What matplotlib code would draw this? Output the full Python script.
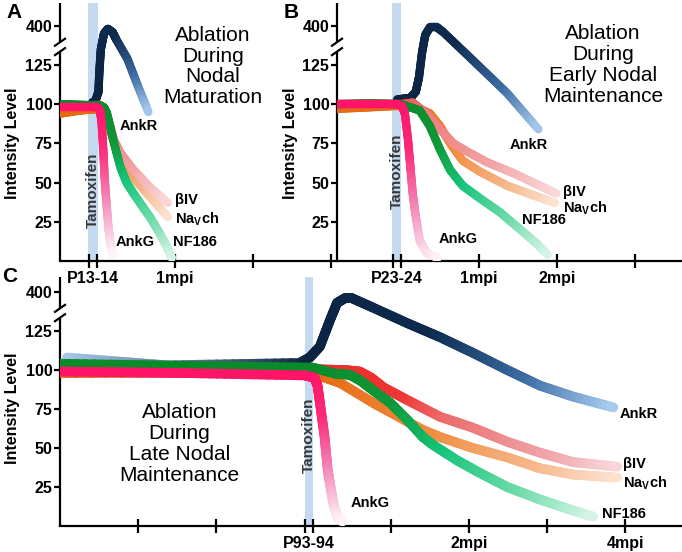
import numpy as np
import matplotlib
matplotlib.use("Agg")
import matplotlib.pyplot as plt
from matplotlib.collections import LineCollection
from matplotlib.colors import LinearSegmentedColormap

plt.rcParams['font.family'] = ['Liberation Sans', 'DejaVu Sans']
plt.rcParams['font.weight'] = 'bold'

# broken intensity scale: 0-125 linear, 150 is where the "400" tick sits
level_ticks = [25, 50, 75, 100, 125, 150]
level_labels = ['25', '50', '75', '100', '125', '400']

# x = months after tamoxifen (0 = end of injection window)
a_ticks = [-0.1, 0, 1, 2, 3]
a_lab_pos = [-0.05, 1]
a_labels = ['P13-14', '1mpi']
b_ticks = [-0.1, 0, 1, 2, 3]
b_lab_pos = [-0.05, 1, 2]
b_labels = ['P23-24', '1mpi', '2mpi']
c_ticks = [-2.24, -1.24, -0.1, 0, 1, 2, 3, 4]
c_lab_pos = [-0.05, 2, 4]
c_labels = ['P93-94', '2mpi', '4mpi']

# panel A - ablation during nodal maturation
a_ankr_x = [-0.06, -0.02, 0.02, 0.03, 0.05, 0.09, 0.14, 0.2, 0.25, 0.39, 0.53, 0.66]
a_ankr_y = [101, 102, 108, 120, 135, 145, 148, 146, 141, 129, 111, 95]
a_ankg_x = [-0.47, -0.21, 0.0, 0.04, 0.06, 0.08, 0.10, 0.125, 0.15, 0.18, 0.21]
a_ankg_y = [98, 98, 98, 96, 88, 72, 52, 35, 20, 9, 4]
a_nf_x = [-0.47, -0.16, 0.04, 0.09, 0.13, 0.21, 0.30, 0.38, 0.47, 0.58, 0.68, 0.79, 0.90, 0.96]
a_nf_y = [100, 99.5, 99, 98, 94, 77, 60, 50, 43, 35, 28, 19, 9, 2]
a_b4_x = [-0.47, 0.04, 0.10, 0.16, 0.22, 0.30, 0.47, 0.68, 0.91]
a_b4_y = [99, 99.5, 97, 88, 77, 69, 58, 47, 37]
a_nav_x = [-0.47, -0.21, 0.04, 0.10, 0.17, 0.25, 0.34, 0.47, 0.68, 0.91]
a_nav_y = [94, 96, 97, 94, 84, 70, 61, 53, 41, 28]

# panel B - early nodal maintenance
b_ankr_x = [-0.05, 0.12, 0.19, 0.23, 0.27, 0.31, 0.37, 0.46, 0.54, 0.92, 1.36, 1.76]
b_ankr_y = [103, 104, 108, 117, 133, 144, 149, 149, 146, 128, 107, 84]
b_ankg_x = [-0.82, -0.4, -0.05, 0.01, 0.05, 0.09, 0.12, 0.15, 0.19, 0.24, 0.33, 0.47]
b_ankg_y = [100, 100, 100, 99, 94, 77, 60, 43, 28, 13, 5, 2]
b_nf_x = [-0.82, -0.4, 0.0, 0.12, 0.24, 0.37, 0.5, 0.63, 0.79, 1.01, 1.27, 1.53, 1.74, 1.88]
b_nf_y = [100, 100.5, 100, 98, 96, 86, 71, 58, 48, 40, 31, 20, 11, 4]
b_b4_x = [-0.82, 0.0, 0.15, 0.33, 0.5, 0.67, 0.84, 1.1, 1.44, 1.78, 1.99]
b_b4_y = [100, 100, 101, 94, 84, 75, 70, 63, 56, 48, 43]
b_nav_x = [-0.82, -0.4, 0.0, 0.2, 0.37, 0.5, 0.63, 0.79, 1.01, 1.36, 1.69, 1.97]
b_nav_y = [97, 98, 99, 98, 94, 86, 75, 64, 57, 48, 42, 37]

# panel C - late nodal maintenance
c_ankr_x = [-3.15, -1.87, -0.17, -0.04, 0.09, 0.22, 0.31, 0.41, 0.5, 0.77, 1.21, 1.63, 2.05, 2.49, 2.91, 3.33, 3.85]
c_ankr_y = [108, 103, 104.5, 108, 115, 132, 143, 146, 146, 140, 130, 121, 111, 100, 90, 83, 76]
c_ankg_x = [-3.24, -1.6, -0.1, 0.02, 0.06, 0.09, 0.15, 0.19, 0.23, 0.26, 0.32, 0.38]
c_ankg_y = [99, 98, 96.5, 95, 90, 79, 57, 36, 24, 15, 5, 3]
c_nf_x = [-3.24, -1.5, 0.0, 0.3, 0.47, 0.6, 0.77, 0.99, 1.21, 1.41, 1.54, 1.85, 2.14, 2.49, 2.91, 3.33, 3.59]
c_nf_y = [104, 102.5, 101.5, 97.5, 97, 93.5, 87, 79, 68, 57, 52, 42, 34, 25, 17, 10, 6]
c_b4_x = [-3.24, -1.5, 0.0, 0.4, 0.6, 0.75, 0.9, 1.2, 1.63, 2.05, 2.49, 2.91, 3.33, 3.9]
c_b4_y = [101.5, 101, 100.5, 100, 99, 95, 89, 81, 70, 63, 54, 47, 41, 38]
c_nav_x = [-3.24, -0.1, 0.1, 0.35, 0.77, 0.99, 1.41, 1.63, 2.05, 2.49, 2.91, 3.33, 3.9]
c_nav_y = [98, 98.5, 96, 91.7, 79, 73, 61.5, 57, 50, 44, 37, 33, 31]

NAVY = '#0b2341'
ANKR_STOPS = [(0, NAVY), (0.5, '#0d2a4d'), (0.78, '#3c6ca3'), (1, '#a4c8ec')]
ANKG_STOPS = [(0, '#ff1468'), (0.3, '#fb2a79'), (0.6, '#f37aae'), (0.85, '#f9c4db'), (1, '#fff3f8')]
NF_STOPS = [(0, '#0b8a2a'), (0.28, '#0f9838'), (0.5, '#16c47a'), (0.78, '#72dcac'), (1, '#d4f5e5')]
B4_STOPS = [(0, '#ee4848'), (0.15, '#ee7878'), (0.6, '#f2a0a2'), (1, '#f9d8da')]
B4C_STOPS = [(0, '#ee2b2b'), (0.3, '#ee3535'), (0.45, '#ec6b6b'), (0.8, '#f1a6ab'), (1, '#f9d6da')]
NAV_STOPS = [(0, '#e56a12'), (0.4, '#f08b3e'), (0.75, '#f6b88c'), (1, '#fde2cf')]
BAR = '#c3daf1'
W, H = 682, 552

fig = plt.figure(figsize=(W / 100, H / 100), dpi=100)


def px_axes(left, right, top, bottom):
    return fig.add_axes([left / W, 1 - bottom / H, (right - left) / W, (bottom - top) / H])


def gradient_line(ax, x, y, stops, lw, z, pre=None):
    x = np.asarray(x, float)
    y = np.asarray(y, float)
    # cut each straight piece into short bits so the colour can change along it
    t = np.linspace(0, 1, 16, endpoint=False)
    xs = np.concatenate([x[i] + (x[i + 1] - x[i]) * t for i in range(len(x) - 1)] + [x[-1:]])
    ys = np.concatenate([y[i] + (y[i + 1] - y[i]) * t for i in range(len(y) - 1)] + [y[-1:]])
    disp = ax.transData.transform(np.column_stack([xs, ys]))
    d = np.concatenate([[0], np.cumsum(np.hypot(*np.diff(disp, axis=0).T))])
    mid = (d[:-1] + d[1:]) / 2
    d0 = d[np.argmax(xs >= 0)] if (xs >= 0).any() else 0.0
    post = np.clip((mid - d0) / (d[-1] - d0), 0, 1)
    colors = LinearSegmentedColormap.from_list('g', stops)(post)
    if pre is not None and d0 > 0:
        before = mid < d0
        ramp = LinearSegmentedColormap.from_list('p', [pre, stops[0][1]])(mid / d0)
        colors[before] = ramp[before]
    pts = np.column_stack([xs, ys])
    segs = np.stack([pts[:-1], pts[1:]], axis=1)
    lc = LineCollection(segs, colors=colors, linewidths=lw, capstyle='round',
                        joinstyle='round', zorder=z)
    ax.add_collection(lc)


def style_axis(ax, xlim, ylim, ticks, lab_pos, labels, brk=(133.5, 139.5)):
    ax.set_xlim(xlim)
    ax.set_ylim(ylim)
    ax.patch.set_visible(False)
    for s in ('top', 'right', 'left'):
        ax.spines[s].set_visible(False)
    ax.spines['bottom'].set_linewidth(1.6)
    ax.xaxis.remove_overlapping_locs = False
    ax.set_xticks(ticks)
    ax.set_xticklabels([])
    ax.set_xticks(lab_pos, labels=labels, minor=True)
    ax.tick_params(axis='x', which='major', direction='inout', length=10, width=1.6)
    ax.tick_params(axis='x', which='minor', length=0, pad=7, labelsize=11.5)
    ax.set_yticks(level_ticks, labels=level_labels)
    ax.tick_params(axis='y', direction='out', length=4.5, width=1.6, pad=1, labelsize=11.5)
    x0 = xlim[0]
    ax.plot([x0, x0], [ylim[0], brk[0]], color='k', lw=1.6, clip_on=False, solid_capstyle='butt')
    ax.plot([x0, x0], [brk[1], ylim[1]], color='k', lw=1.6, clip_on=False, solid_capstyle='butt')
    inv = ax.transData.inverted()
    for yb in brk:
        p = ax.transData.transform((x0, yb))
        seg = inv.transform([p + (-5, -3.5), p + (5, 3.5)])
        ax.plot(seg[:, 0], seg[:, 1], color='k', lw=1.6, clip_on=False)


def draw_panel(ax, curves, lw, bar, tamox_y, labels, title, title_xy):
    ax.axvspan(bar[0], bar[1], color=BAR, lw=0, zorder=1)
    for x, y, stops, z, pre in curves:
        gradient_line(ax, x, y, stops, lw, z, pre)
    ax.text((bar[0] + bar[1]) / 2, tamox_y, 'Tamoxifen', rotation=90, ha='center', va='center',
            fontsize=11, color='#383838', zorder=10)
    for txt, (lx, ly), ha in labels:
        ax.text(lx, ly, txt, ha=ha, va='center', fontsize=10.5, zorder=10)
    ax.text(title_xy[0], title_xy[1], title, ha='center', va='center', fontsize=15,
            fontweight='normal', linespacing=1.12, zorder=10)


NAV_LABEL = r'Na$_\mathregular{V}$ch'

axA = px_axes(60, 337, 3, 261)
axB = px_axes(337, 682, 3, 261)
axC = px_axes(60, 682, 277, 526)

style_axis(axA, (-0.474, 3.08), (0, 164.5), a_ticks, a_lab_pos, a_labels)
style_axis(axB, (-0.82, 3.6), (0, 164.5), b_ticks, b_lab_pos, b_labels)
style_axis(axC, (-3.24, 4.73), (0, 159.6), c_ticks, c_lab_pos, c_labels)

draw_panel(axA,
           [(a_ankr_x, a_ankr_y, ANKR_STOPS, 3, None),
            (a_nav_x, a_nav_y, NAV_STOPS, 4, None),
            (a_b4_x, a_b4_y, B4_STOPS, 5, None),
            (a_nf_x, a_nf_y, NF_STOPS, 6, None),
            (a_ankg_x, a_ankg_y, ANKG_STOPS, 7, None)],
           6, (-0.115, 0.01), 45,
           [('AnkR', (0.53, 86), 'center'), ('βIV', (1.0, 39), 'left'),
            (NAV_LABEL, (1.0, 27), 'left'), ('AnkG', (0.49, 12), 'center'),
            ('NF186', (1.26, 12), 'center')],
           'Ablation\nDuring\nNodal\nMaturation', (1.49, 124))

draw_panel(axB,
           [(b_ankr_x, b_ankr_y, ANKR_STOPS, 3, None),
            (b_nav_x, b_nav_y, NAV_STOPS, 4, None),
            (b_b4_x, b_b4_y, B4_STOPS, 5, None),
            (b_nf_x, b_nf_y, NF_STOPS, 6, None),
            (b_ankg_x, b_ankg_y, ANKG_STOPS, 7, None)],
           6, (-0.11, 0.0), 57,
           [('AnkR', (1.63, 74), 'center'), ('βIV', (2.08, 44), 'left'),
            (NAV_LABEL, (2.08, 34), 'left'), ('AnkG', (0.73, 14), 'center'),
            ('NF186', (1.83, 26), 'center')],
           'Ablation\nDuring\nEarly Nodal\nMaintenance', (2.59, 125))

draw_panel(axC,
           [(c_ankr_x, c_ankr_y, [(0, NAVY), (0.45, '#0d2a4d'), (0.75, '#3c6ca3'), (1, '#a6cbee')], 3, '#a9c9eb'),
            (c_nav_x, c_nav_y, NAV_STOPS, 4, None),
            (c_b4_x, c_b4_y, B4C_STOPS, 5, None),
            (c_nf_x, c_nf_y, NF_STOPS, 6, None),
            (c_ankg_x, c_ankg_y, ANKG_STOPS, 7, None)],
           7, (-0.1, 0.0), 58,
           [('AnkR', (4.18, 72), 'center'), ('βIV', (3.97, 39.5), 'left'),
            (NAV_LABEL, (3.97, 27.5), 'left'), ('AnkG', (0.73, 15), 'center'),
            ('NF186', (3.99, 8), 'center')],
           'Ablation\nDuring\nLate Nodal\nMaintenance', (-1.71, 52.6))

for x, y in [(12, 143), (290, 143), (12, 408)]:
    fig.text(x / W, 1 - y / H, 'Intensity Level', rotation=90, ha='center', va='center', fontsize=11.5)
for letter, x, y in [('A', 14, 12), ('B', 291, 12), ('C', 10, 276)]:
    fig.text(x / W, 1 - y / H, letter, ha='center', va='center', fontsize=15)

fig.savefig('out.png', dpi=100)
